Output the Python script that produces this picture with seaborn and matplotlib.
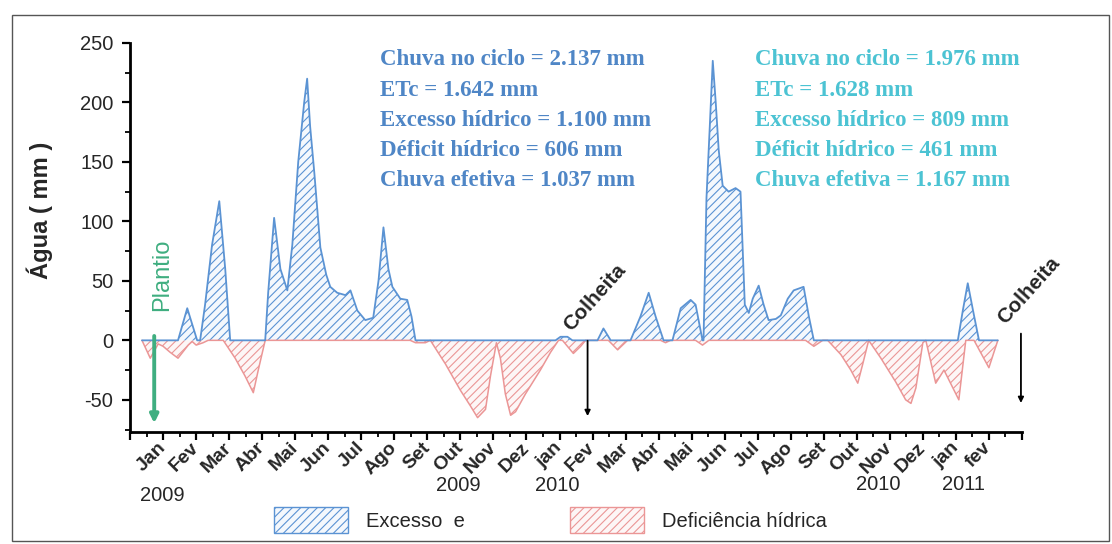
import matplotlib
matplotlib.use("Agg")
import matplotlib.pyplot as plt
from matplotlib.patches import Patch, Rectangle
from matplotlib.ticker import MultipleLocator
from matplotlib.transforms import blended_transform_factory
import pandas as pd
import seaborn as sns

# posição no eixo x em meses (1 = Jan/2009, 13 = jan/2010, 25 = jan/2011)
mes_exc = [0.36, 1.45, 1.73, 2.03, 2.12, 2.27, 2.48, 2.70, 2.88, 3.03,
           4.09, 4.18, 4.36, 4.55, 4.76, 4.91, 5.09, 5.27, 5.36, 5.45,
           5.58, 5.76, 5.94, 6.06, 6.27, 6.52, 6.67, 6.88, 7.12, 7.36,
           7.52, 7.67, 7.82, 7.94, 8.18, 8.39, 8.52, 8.64,
           12.88, 13.03, 13.24, 13.39, 14.15, 14.33, 14.55,
           15.15, 15.45, 15.70, 15.91, 16.15, 16.42, 16.67, 16.97, 17.12, 17.33,
           17.36, 17.45, 17.55, 17.64, 17.73, 17.82, 17.94, 18.12, 18.33, 18.48,
           18.61, 18.73, 18.85, 19.03, 19.18, 19.33, 19.55, 19.70, 19.91, 20.09,
           20.39, 20.55, 20.70, 25.06, 25.21, 25.36, 25.52, 25.70, 26.27]
excesso = [0, 0, 27, 0, 0, 30, 80, 117, 60, 0,
           0, 40, 103, 60, 42, 80, 150, 200, 220, 180,
           140, 78, 55, 45, 40, 38, 42, 25, 17, 19,
           50, 95, 60, 45, 35, 34, 20, 0,
           0, 3, 3, 0, 0, 10, 0,
           0, 20, 40, 20, 0, 0, 27, 34, 30, 0,
           0, 120, 180, 235, 200, 160, 130, 125, 128, 125,
           30, 23, 35, 46, 30, 17, 18, 21, 35, 42,
           45, 20, 0, 0, 25, 48, 25, 0, 0]

mes_def = [0.36, 0.61, 0.85, 1.00, 1.21, 1.45, 1.76, 1.88, 2.00, 2.21,
           2.36, 2.82, 3.18, 3.48, 3.73, 3.88, 4.09, 8.48, 8.64, 8.94,
           9.09, 9.55, 10.00, 10.30, 10.52, 10.76, 10.91, 11.09, 11.21, 11.36,
           11.52, 11.67, 11.97, 12.42, 12.73, 12.97, 13.09, 13.42, 13.64, 13.79,
           14.48, 14.76, 15.06, 16.06, 16.21, 16.36, 17.12, 17.33, 17.52, 20.45,
           20.70, 20.97, 21.12, 21.52, 21.82, 22.03, 22.18, 22.36, 22.73, 23.18,
           23.48, 23.64, 23.79, 24.00, 24.09, 24.39, 24.64, 25.09, 25.30, 25.55,
           26.00, 26.27]
deficit = [0, -15, -3, -5, -10, -15, -4, -1, -4, -2,
           0, 0, -15, -30, -44, -25, 0, 0, -2, -2,
           0, -20, -42, -55, -65, -58, -30, -2, -15, -45,
           -63, -60, -45, -25, -10, 0, 0, -11, -5, 0,
           0, -8, 0, 0, -2, 0, 0, -4, 0, 0,
           -5, 0, 0, -12, -25, -36, -20, 0, -15, -35,
           -50, -53, -40, -2, 0, -36, -25, -50, 0, 0,
           -23, 0]

meses = ["Jan", "Fev", "Mar", "Abr", "Mai", "Jun", "Jul", "Ago", "Set", "Out", "Nov", "Dez",
         "jan", "Fev", "Mar", "Abr", "Mai", "Jun", "Jul", "Ago", "Set", "Out", "Nov", "Dez",
         "jan", "fev"]
anos = ["2009", "2009", "2010", "2010", "2011"]
anos_mes = [0.97, 9.94, 12.94, 22.64, 25.24]

plantio_mes = 0.73
colheita_mes = [13.85, 26.97]

ciclo1 = ["Chuva no ciclo = 2.137 mm", "ETc = 1.642 mm", "Excesso hídrico = 1.100 mm",
          "Déficit hídrico = 606 mm", "Chuva efetiva = 1.037 mm"]
ciclo2 = ["Chuva no ciclo = 1.976 mm", "ETc = 1.628 mm", "Excesso hídrico = 809 mm",
          "Déficit hídrico = 461 mm", "Chuva efetiva = 1.167 mm"]

azul = "#5b93d3"
rosa = "#eb9696"
verde = "#3fae80"

sns.set_style("ticks")
plt.rcParams["font.family"] = ["Liberation Sans", "DejaVu Sans"]
plt.rcParams["hatch.linewidth"] = 0.8
plt.rcParams["axes.unicode_minus"] = False

fig = plt.figure(figsize=(11.12, 5.44), dpi=100)
ax = fig.add_axes([0.117, 0.206, 0.802, 0.715])

df_exc = pd.DataFrame({"mes": mes_exc, "agua": excesso})
df_def = pd.DataFrame({"mes": mes_def, "agua": deficit})

ax.fill_between(df_def.mes, df_def.agua, 0, facecolor="#fdf6f6", edgecolor=rosa, hatch="////", lw=0)
ax.fill_between(df_exc.mes, df_exc.agua, 0, facecolor="#f4f8fd", edgecolor=azul, hatch="////", lw=0)
sns.lineplot(data=df_def, x="mes", y="agua", ax=ax, color=rosa, lw=1.1, sort=False, estimator=None)
sns.lineplot(data=df_exc, x="mes", y="agua", ax=ax, color=azul, lw=1.3, sort=False, estimator=None)

ax.set_xlim(0, 27)
ax.set_ylim(-77, 250)
ax.set_xticks(range(0, 28))
ax.set_xticklabels([""] + meses + [""])
ax.xaxis.set_minor_locator(MultipleLocator(0.5))
ax.set_yticks([-50, 0, 50, 100, 150, 200, 250])
ax.yaxis.set_minor_locator(MultipleLocator(25))
ax.set_xlabel("")
ax.set_ylabel("")
sns.despine(ax=ax)
for s in ["left", "bottom"]:
    ax.spines[s].set_linewidth(2)
    ax.spines[s].set_color("black")
ax.tick_params(which="major", length=6, width=1.6, color="black", labelsize=14.5)
ax.tick_params(which="minor", length=3.5, width=1.3, color="black")
ax.tick_params(axis="y", pad=6)
for lab in ax.get_xticklabels():
    lab.set_rotation(45)
    lab.set_ha("right")
    lab.set_va("center")
    lab.set_rotation_mode("anchor")
    lab.set_fontweight("bold")
    lab.set_fontsize(14)

# anos abaixo dos meses
tr = blended_transform_factory(ax.transData, fig.transFigure)
for a, m, yy in zip(anos, anos_mes, [0.09, 0.108, 0.108, 0.11, 0.11]):
    ax.text(m, yy, a, transform=tr, ha="center", va="center", fontsize=14.5)

# plantio e colheitas
ax.annotate("", xy=(plantio_mes, -72), xytext=(plantio_mes, 6),
            arrowprops=dict(arrowstyle="-|>", color=verde, lw=2.8, mutation_scale=12))
ax.text(plantio_mes + 0.25, 55, "Plantio", rotation=90, color=verde, fontsize=17,
        ha="center", va="center")
for m, (y0, y1) in zip(colheita_mes, [(2, -66), (8, -55)]):
    ax.annotate("", xy=(m, y1), xytext=(m, y0),
                arrowprops=dict(arrowstyle="-|>", color="black", lw=1.3, mutation_scale=8))
    ax.text(m - 0.4, y0 + 3, "Colheita", rotation=48, rotation_mode="anchor",
            ha="left", va="bottom", fontweight="bold", fontsize=15, clip_on=False)

fig.text(0.036, 0.614, "Água ( mm )", rotation=90, fontweight="bold", fontsize=17,
         ha="center", va="center")

ys = [0.890, 0.833, 0.779, 0.724, 0.669]
for t1, t2, y in zip(ciclo1, ciclo2, ys):
    fig.text(0.342, y, t1, color="#4f86c6", family=["Liberation Serif", "DejaVu Serif"],
             fontweight="bold", fontsize=16.5, va="center")
    fig.text(0.679, y, t2, color="#4cc3d3", family=["Liberation Serif", "DejaVu Serif"],
             fontweight="bold", fontsize=16.5, va="center")

handles = [Patch(facecolor="#f4f8fd", edgecolor=azul, hatch="////", label="Excesso  e"),
           Patch(facecolor="#fdf6f6", edgecolor=rosa, hatch="////", label="Deficiência hídrica")]
fig.legend(handles=handles, loc="center", bbox_to_anchor=(0.495, 0.044), ncol=2,
           frameon=False, handlelength=3.7, handleheight=1.6, columnspacing=5.2,
           handletextpad=0.9, fontsize=14.5)

fig.patches.append(Rectangle((0.011, 0.006), 0.986, 0.966, transform=fig.transFigure,
                             fill=False, ec="#555555", lw=1))

fig.savefig("out.png", dpi=100)
